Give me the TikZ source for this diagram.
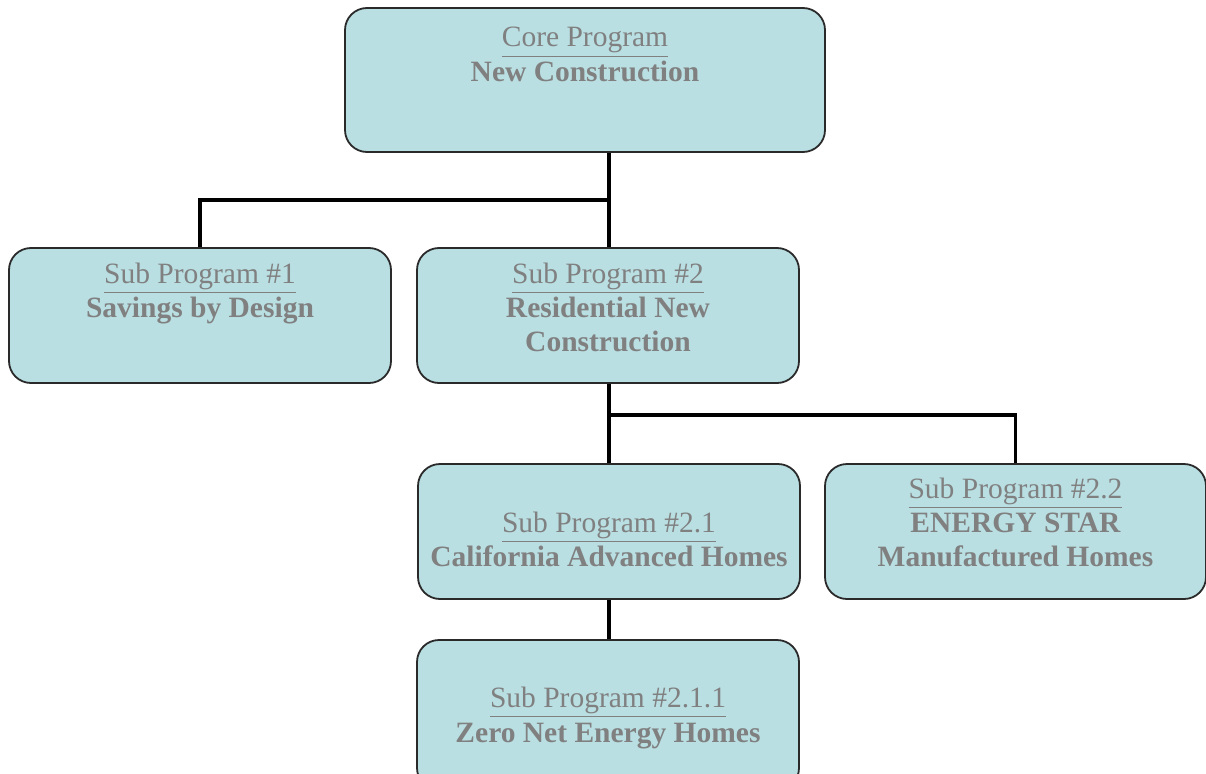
\documentclass[tikz,border=0pt]{standalone}
\usepackage{fontspec}
\setmainfont{Liberation Serif}
\definecolor{boxfill}{HTML}{B9DFE3}
\definecolor{boxedge}{HTML}{2A2A2A}
\definecolor{txtgray}{HTML}{808080}
\newcommand{\ulx}[1]{\leavevmode\vtop{\hbox{#1}\kern2.2pt\hrule height 1.8pt}}
\begin{document}
\begin{tikzpicture}[x=1pt,y=-1pt,
  box/.style={draw=boxedge, fill=boxfill, line width=1.8pt, rounded corners=22pt, inner sep=0pt},
  conn/.style={draw=black, line width=3.6pt},
  ln/.style={anchor=base, inner sep=0pt, text=txtgray, font=\fontsize{29.5}{34}\selectfont},
  bl/.style={ln, font=\fontsize{29.5}{34}\selectfont\bfseries}]
\useasboundingbox (0,0) rectangle (1206,773);
% junction coordinates
\coordinate (j1) at (609,200);
\coordinate (j2) at (609,415);
% boxes
\node[box, minimum width=480, minimum height=144] (core) at (585,80) {};
\node[box, minimum width=382, minimum height=135] (sub1) at (200,315.5) {};
\node[box, minimum width=382, minimum height=135] (sub2) at (608,315.5) {};
\node[box, minimum width=382, minimum height=135] (sub21) at (609,531.5) {};
\node[box, minimum width=381, minimum height=135] (sub22) at (1015.5,531.5) {};
\node[box, minimum width=382, minimum height=150] (sub211) at (608,715) {};
% connectors
\draw[conn] (j1 |- core.south) -- (j1 |- sub2.north);
\draw[conn] (sub1.north) |- (j1);
\draw[conn] (j2 |- sub2.south) -- (j2 |- sub21.north);
\draw[conn] (sub22.north) |- (j2);
\draw[conn] (j2 |- sub21.south) -- (j2 |- sub211.north);
% texts
\node[ln] (t0a) at (585,47) {\ulx{Core Program}};
\node[bl] (t0b) at (585,82) {New Construction};
\node[ln] (t1a) at (200,283) {\ulx{Sub Program \#1}};
\node[bl] (t1b) at (200,317) {Savings by Design};
\node[ln] (t2a) at (608,283) {\ulx{Sub Program \#2}};
\node[bl] (t2b) at (608,317) {Residential New};
\node[bl] (t2c) at (608,351) {Construction};
\node[ln] (t3a) at (609,532) {\ulx{Sub Program \#2.1}};
\node[bl] (t3b) at (609,566) {California Advanced Homes};
\node[ln] (t4a) at (1015.5,498) {\ulx{Sub Program \#2.2}};
\node[bl] (t4b) at (1015.5,532) {ENERGY STAR};
\node[bl] (t4c) at (1015.5,566) {Manufactured Homes};
\node[ln] (t5a) at (608,707) {\ulx{Sub Program \#2.1.1}};
\node[bl] (t5b) at (608,742) {Zero Net Energy Homes};
\end{tikzpicture}
\end{document}
